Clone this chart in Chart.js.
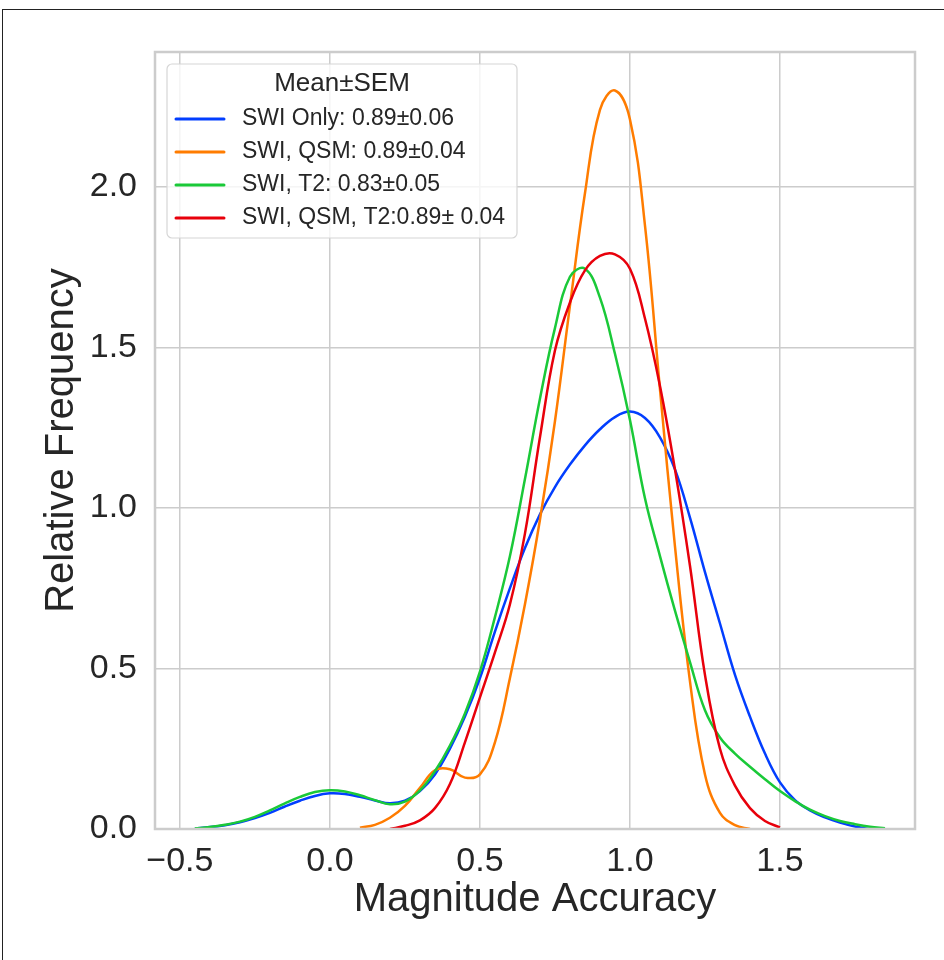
<!DOCTYPE html>
<html>
<head>
<meta charset="utf-8">
<title>Magnitude Accuracy KDE</title>
<script src="https://cdn.jsdelivr.net/npm/chart.js@4.4.1/dist/chart.umd.min.js"></script>
<style>
  html, body { margin: 0; padding: 0; background: #fff; overflow: hidden; }
  #wrap { position: relative; width: 944px; height: 960px; }
  #frame { position: absolute; left: 2px; top: 9px; width: 1000px; height: 1000px;
           border-left: 1.5px solid #222; border-top: 1.5px solid #222; }
  canvas { position: absolute; left: 0; top: 0; }
</style>
</head>
<body>
<div id="wrap">
  <div id="frame"></div>
  <canvas id="kdeChart" width="944" height="960"></canvas>
</div>
<script>
// density curves, one x/y pair per group
const swiOnlyX = [-0.45, -0.4, -0.35, -0.3, -0.25, -0.2, -0.15, -0.1, -0.05, 0.0, 0.05, 0.1, 0.15, 0.2, 0.25, 0.3, 0.35, 0.4, 0.45, 0.5, 0.55, 0.6, 0.65, 0.7, 0.75, 0.8, 0.85, 0.9, 0.95, 1.0, 1.05, 1.1, 1.15, 1.2, 1.25, 1.3, 1.35, 1.4, 1.45, 1.5, 1.55, 1.6, 1.65, 1.7, 1.75, 1.8];
const swiOnlyY = [0.002, 0.006, 0.012, 0.021, 0.034, 0.05, 0.07, 0.088, 0.103, 0.111, 0.109, 0.1, 0.089, 0.08, 0.088, 0.118, 0.17, 0.25, 0.35, 0.47, 0.615, 0.75, 0.875, 0.98, 1.065, 1.135, 1.195, 1.245, 1.283, 1.30, 1.28, 1.22, 1.12, 0.97, 0.80, 0.64, 0.48, 0.35, 0.235, 0.145, 0.09, 0.058, 0.036, 0.02, 0.008, 0.0];

const swiQsmX = [0.1, 0.15, 0.2, 0.25, 0.3, 0.35, 0.4, 0.45, 0.5, 0.55, 0.6, 0.65, 0.7, 0.75, 0.8, 0.85, 0.9, 0.95, 1.0, 1.05, 1.1, 1.15, 1.2, 1.25, 1.3, 1.35, 1.4];
const swiQsmY = [0.004, 0.013, 0.035, 0.072, 0.128, 0.183, 0.186, 0.16, 0.17, 0.27, 0.47, 0.70, 0.963, 1.27, 1.63, 1.98, 2.24, 2.30, 2.21, 1.88, 1.37, 0.88, 0.46, 0.17, 0.05, 0.012, 0.0];

const swiT2X = [-0.45, -0.4, -0.35, -0.3, -0.25, -0.2, -0.15, -0.1, -0.05, 0.0, 0.05, 0.1, 0.15, 0.2, 0.25, 0.3, 0.35, 0.4, 0.45, 0.5, 0.55, 0.6, 0.65, 0.7, 0.75, 0.8, 0.85, 0.9, 0.95, 1.0, 1.05, 1.1, 1.15, 1.2, 1.25, 1.3, 1.35, 1.4, 1.45, 1.5, 1.55, 1.6, 1.65, 1.7, 1.75, 1.8, 1.85];
const swiT2Y = [0.002, 0.006, 0.013, 0.023, 0.038, 0.058, 0.08, 0.1, 0.115, 0.121, 0.117, 0.105, 0.09, 0.077, 0.085, 0.12, 0.18, 0.26, 0.36, 0.49, 0.66, 0.85, 1.09, 1.34, 1.56, 1.72, 1.745, 1.655, 1.48, 1.274, 1.03, 0.85, 0.68, 0.52, 0.37, 0.285, 0.235, 0.194, 0.155, 0.118, 0.087, 0.06, 0.04, 0.025, 0.015, 0.007, 0.002];

const swiQsmT2X = [0.2, 0.25, 0.3, 0.35, 0.4, 0.45, 0.5, 0.55, 0.6, 0.65, 0.7, 0.75, 0.8, 0.85, 0.9, 0.95, 1.0, 1.05, 1.1, 1.15, 1.2, 1.25, 1.3, 1.35, 1.4, 1.45, 1.5];
const swiQsmT2Y = [0.0, 0.01, 0.027, 0.065, 0.14, 0.27, 0.41, 0.55, 0.70, 0.92, 1.22, 1.49, 1.64, 1.74, 1.785, 1.79, 1.745, 1.59, 1.38, 1.12, 0.82, 0.48, 0.25, 0.135, 0.065, 0.025, 0.005];

const seriesLabels = ['SWI Only: 0.89\u00b10.06', 'SWI, QSM: 0.89\u00b10.04', 'SWI, T2: 0.83\u00b10.05', 'SWI, QSM, T2:0.89\u00b1 0.04'];
const seriesX = [swiOnlyX, swiQsmX, swiT2X, swiQsmT2X];
const seriesY = [swiOnlyY, swiQsmY, swiT2Y, swiQsmT2Y];
const seriesColors = ['#023eff', '#ff7c00', '#1ac938', '#e8000b'];

const xTicks = [-0.5, 0.0, 0.5, 1.0, 1.5];
const yTicks = [0.0, 0.5, 1.0, 1.5, 2.0];
const legendTitle = 'Mean\u00b1SEM';

const FONT = '"Liberation Sans", Arial, sans-serif';
const TEXT = '#262626';
const GRID = '#cccccc';

function fmtTick(v) {
    return (v < 0 ? '\u2212' : '') + Math.abs(v).toFixed(1);
}

// light grey box around the plot area, drawn over the curves like seaborn spines
const plotFrame = {
    id: 'plotFrame',
    afterDatasetsDraw(chart) {
        const { ctx, chartArea: a } = chart;
        ctx.save();
        ctx.strokeStyle = GRID;
        ctx.lineWidth = 2.5;
        ctx.strokeRect(a.left, a.top, a.right - a.left, a.bottom - a.top);
        ctx.restore();
    }
};

// legend box with title in the upper left corner of the plot
const insideLegend = {
    id: 'insideLegend',
    afterDraw(chart) {
        const { ctx, chartArea: a } = chart;
        const x = a.left + 12, y = a.top + 12, w = 350, h = 174;
        ctx.save();
        ctx.beginPath();
        ctx.roundRect(x, y, w, h, 5);
        ctx.fillStyle = 'rgba(255,255,255,0.8)';
        ctx.fill();
        ctx.strokeStyle = '#d6d6d6';
        ctx.lineWidth = 1.2;
        ctx.stroke();

        ctx.fillStyle = TEXT;
        ctx.textBaseline = 'middle';
        ctx.textAlign = 'center';
        ctx.font = '26px ' + FONT;
        ctx.fillText(legendTitle, x + w / 2, y + 20);

        ctx.textAlign = 'left';
        ctx.font = '23px ' + FONT;
        chart.data.datasets.forEach((ds, i) => {
            const rowY = y + 55 + i * 33;
            ctx.strokeStyle = ds.borderColor;
            ctx.lineWidth = 3;
            ctx.lineCap = 'round';
            ctx.beginPath();
            ctx.moveTo(x + 9, rowY);
            ctx.lineTo(x + 57, rowY);
            ctx.stroke();
            ctx.fillStyle = TEXT;
            ctx.fillText(ds.label, x + 75, rowY);
        });
        ctx.restore();
    }
};

const datasets = seriesLabels.map((label, i) => ({
    label: label,
    data: seriesX[i].map((x, j) => ({ x: x, y: seriesY[i][j] })),
    borderColor: seriesColors[i],
    backgroundColor: seriesColors[i],
    borderWidth: 2.5,
    pointRadius: 0,
    showLine: true,
    fill: false,
    tension: 0.4,
    order: seriesLabels.length - i
}));

const ctx = document.getElementById('kdeChart').getContext('2d');
const kdeChart = new Chart(ctx, {
    type: 'scatter',
    data: { datasets: datasets },
    options: {
        responsive: false,
        animation: false,
        layout: { padding: { left: 38, top: 52, right: 29, bottom: 36 } },
        plugins: {
            legend: { display: false },
            tooltip: { enabled: false }
        },
        scales: {
            x: {
                type: 'linear',
                min: -0.583,
                max: 1.95,
                afterBuildTicks: s => { s.ticks = xTicks.map(v => ({ value: v })); },
                afterFit: s => { s.height = 95; },
                ticks: {
                    callback: v => fmtTick(v),
                    font: { family: FONT, size: 34 },
                    color: TEXT,
                    padding: 12,
                    maxRotation: 0
                },
                grid: { color: GRID, lineWidth: 1.5, drawTicks: false },
                border: { display: false },
                title: {
                    display: true,
                    text: 'Magnitude Accuracy',
                    font: { family: FONT, size: 40 },
                    color: TEXT,
                    padding: 0
                }
            },
            y: {
                type: 'linear',
                min: 0,
                max: 2.42,
                afterBuildTicks: s => { s.ticks = yTicks.map(v => ({ value: v })); },
                afterFit: s => { s.width = 117; },
                ticks: {
                    callback: v => fmtTick(v),
                    font: { family: FONT, size: 34 },
                    color: TEXT,
                    padding: 18
                },
                grid: { color: GRID, lineWidth: 1.5, drawTicks: false },
                border: { display: false },
                title: {
                    display: true,
                    text: 'Relative Frequency',
                    font: { family: FONT, size: 40 },
                    color: TEXT,
                    padding: 0
                }
            }
        }
    },
    plugins: [plotFrame, insideLegend]
});
</script>
</body>
</html>
